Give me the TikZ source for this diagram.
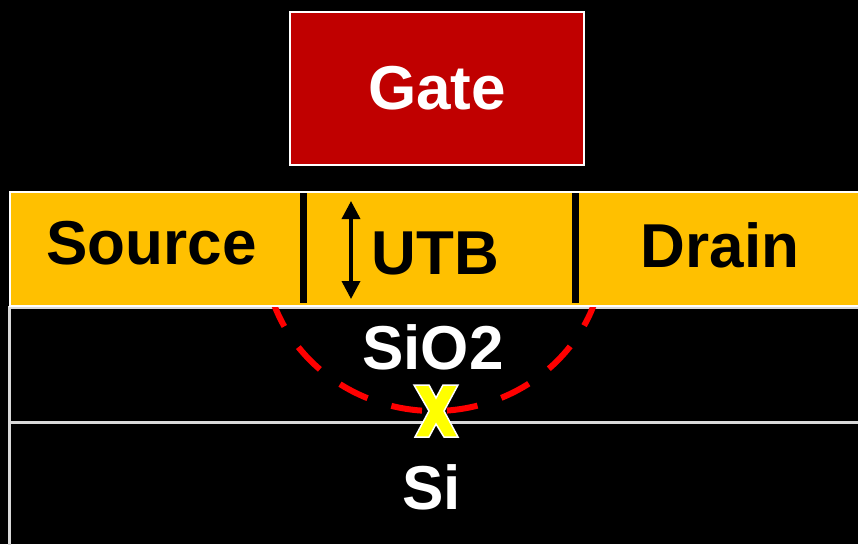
\documentclass[tikz,border=0pt]{standalone}
\usepackage{fontspec}
\setmainfont{Liberation Sans}
\usetikzlibrary{arrows.meta}
\definecolor{gatered}{HTML}{C00000}
\definecolor{sdyellow}{HTML}{FFC000}
\definecolor{markyellow}{HTML}{FFFF00}
\definecolor{edgegray}{HTML}{D9D9D9}
\tikzset{
  bigtext/.style={font=\fontsize{62}{62}\selectfont\bfseries,inner sep=0pt},
  layerline/.style={draw=edgegray,line width=3pt},
  bar/.style={black,line width=7pt},
}
\begin{document}
\begin{tikzpicture}[x=1pt,y=-1pt]
  \useasboundingbox (0,0) rectangle (858,544);
  \clip (0,0) rectangle (858,544);
  \fill[black] (0,0) rectangle (858,544);
  % Si and SiO2 layers
  \path[layerline] (9.5,422) rectangle (880,570);
  \path[layerline] (9.5,307) rectangle (880,422);
  % dashed arc
  \coordinate (arccentre) at (434,250);
  \draw[red,line width=6pt,dash pattern=on 31pt off 25pt]
    ([shift={(162.6:170 and 161)}]arccentre)
    arc[start angle=162.6,end angle=18,x radius=170,y radius=161];
  % source / UTB / drain layer
  \path[fill=sdyellow,draw=white,line width=2pt] (9.5,192) rectangle (880,306);
  \draw[bar] (303,193) -- (303,303);
  \draw[bar] (575,193) -- (575,303);
  \coordinate (utbtop) at (351,201);
  \coordinate (utbbottom) at (351,299);
  \draw[line width=3.5pt,{Triangle[width=18pt,length=18pt]}-{Triangle[width=18pt,length=18pt]}]
    (utbtop) -- (utbbottom);
  % gate
  \node[bigtext,fill=gatered,draw=white,line width=2pt,text=white,
    minimum width=294pt,minimum height=153pt] (gate) at (437,88.5) {Gate};
  % labels
  \node[bigtext,anchor=base] (source) at (151.5,264) {Source};
  \node[bigtext,anchor=base] (utb) at (435.5,274) {UTB};
  \node[bigtext,anchor=base] (drain) at (720,267) {Drain};
  \node[bigtext,anchor=base,text=white] (sio2) at (433,369) {SiO2};
  \node[bigtext,anchor=base,text=white] (si) at (431.5,509) {Si};
  % yellow cross
  \coordinate (xmark) at (436,411);
  \filldraw[fill=markyellow,draw=white,line width=1.5pt,shift={(xmark)}]
    (-22,-26) -- (-7,-26) -- (0,-13) -- (7,-26) -- (22,-26) -- (8,0)
    -- (22,26) -- (8,26) -- (0,13) -- (-7,26) -- (-21,26) -- (-7,0) -- cycle;
\end{tikzpicture}
\end{document}
